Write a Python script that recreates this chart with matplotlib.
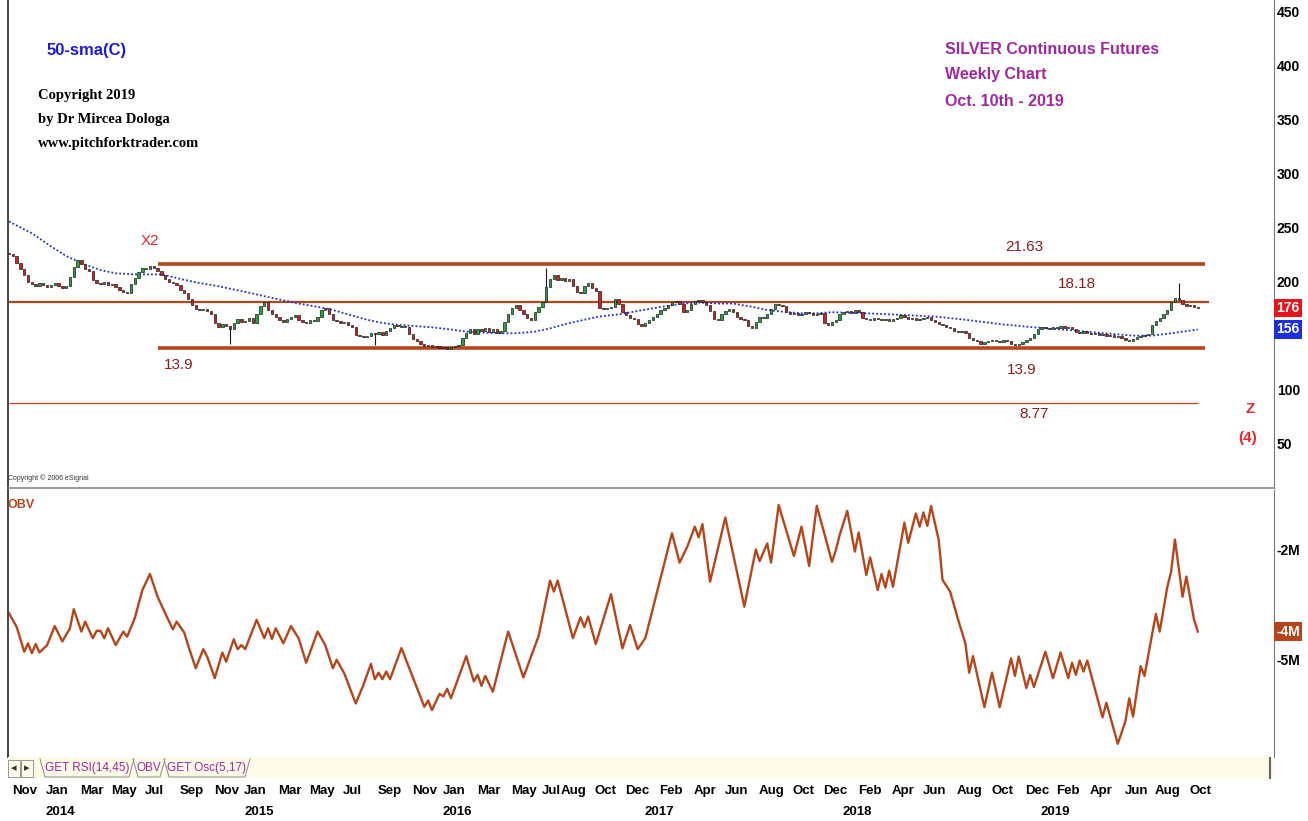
import matplotlib.pyplot as plt
import matplotlib.lines as mlines
import matplotlib.patches as mpatches
import matplotlib.transforms as mtransforms
import numpy as np
import pandas as pd

# ---------------- data ----------------
# weekly closes in axis units (10 = $1), first bar Oct 18 2013
closes = [
    226, 224, 218, 212, 206, 200, 198, 196, 199, 197, 195, 197, 199, 196, 194, 196,
    205, 214, 220, 217,
    212, 210, 202, 199, 198, 200, 197, 198,
    195, 193, 191, 190, 198, 204, 209,
    213, 212, 215, 213,
    210, 206, 203, 200, 199, 197, 193, 190,
    184, 179, 175, 174, 175, 173, 170,
    162, 158, 161, 159, 156,
    162, 166, 163, 164, 167, 162,
    170, 178, 181,
    174, 170, 168, 165, 163, 166, 168, 169, 165,
    163, 162, 165, 164, 168, 174, 176,
    170, 165, 164, 162, 163, 160, 158,
    151, 150, 149, 150, 153, 152, 154, 151,
    155, 157, 160, 159, 158, 158,
    152, 147, 145, 143,
    141, 142, 140, 141, 139, 140, 138, 140, 141, 142,
    148, 153, 156, 152, 156, 155, 157, 154, 156, 153, 155,
    163, 170, 176, 179, 174, 170, 167, 165, 172, 177, 181,
    195, 203, 206, 202, 204, 201, 203, 196, 191, 190,
    196, 199, 194, 192, 176, 175, 176, 177, 184, 180,
    172, 169, 167, 166, 161, 159, 162, 165, 168, 170, 174, 176,
    179, 181, 182, 180, 172, 174, 180, 182, 183, 181, 179,
    173, 166, 165, 170, 173, 175, 172, 168, 166, 165,
    159, 157, 163, 168, 167, 170, 175, 180, 179, 178,
    172, 170, 171, 169, 170, 172, 171, 169, 170, 171,
    162, 160, 163, 165, 170, 172, 173, 171, 174, 172,
    167, 166, 165, 167, 166, 165, 166, 164, 166, 167,
    169, 168, 166, 167, 165, 166, 167, 168, 165,
    163, 161, 160, 158, 157, 155, 154, 155, 153, 148, 146, 145,
    143, 144, 145, 146, 145, 144, 146, 145, 143, 142, 143, 144, 146, 148,
    152, 156, 158, 157, 156, 158, 157, 159, 157, 158, 156,
    154, 153, 155, 153, 152, 153, 151, 152, 150, 151, 149, 150,
    148, 146, 145, 147, 149, 150, 151, 152,
    160, 164, 167, 170, 174, 181, 185, 183, 180, 178, 179, 177, 176,
]

# long wicks that stand out
wick_weeks = [58, 96, 141, 307]
wick_values = [143, 142, 213, 199]

# 50-week sma (blue dotted) read at these weeks
sma_weeks = [0, 6, 11, 15, 20, 24, 28, 33, 36, 40, 46, 50, 55, 59, 63, 68, 72, 76, 81,
             85, 90, 94, 98, 103, 107, 111, 116, 120, 125, 129, 133, 138, 142, 146,
             151, 155, 160, 164, 168, 173, 177, 181, 186, 190, 195, 199, 203, 208,
             212, 216, 225, 234, 243, 251, 260, 269, 278, 286, 291, 295, 300, 304,
             308, 312]
sma_values = [256, 245, 233, 224, 216, 211, 208, 207, 207, 207, 202, 199, 196, 193,
              190, 186, 183, 180, 177, 174, 169, 165, 162, 160, 159, 158, 156, 154,
              153, 152.5, 152.5, 154, 157, 161, 165, 168, 170, 172.5, 175, 178, 180,
              181, 180, 180, 177, 174, 172.5, 171, 171, 172, 171, 169.5, 168, 165,
              161, 158, 155.5, 153, 151.5, 150.3, 150.3, 152, 154, 156]

# OBV turning points (millions)
obv_weeks = [0, 2, 4, 5, 6, 7, 8, 10, 12, 14, 16, 17, 19, 20, 22, 23, 24, 25, 26, 28,
             30, 31, 33, 35, 37, 39, 41, 43, 44, 46, 47, 49, 51, 52, 54, 56, 57, 59, 60,
             61, 62, 65, 67, 68, 69, 70, 72, 74, 76, 78, 81, 83, 85, 86, 88, 91, 93, 95,
             96, 97, 98, 99, 100, 103, 109, 110, 111, 113, 114, 115, 116, 120, 122, 123,
             124, 125, 127, 131, 135, 139, 142, 143, 144, 148, 150, 151, 152, 154, 158,
             161, 163, 165, 167, 174, 176, 178, 180, 181, 182, 184, 188, 193, 196, 197,
             199, 200, 202, 206, 208, 210, 212, 216, 217, 218, 220, 222, 223, 225, 226,
             228, 229, 230, 231, 232, 235, 236, 238, 239, 240, 241, 242, 244, 245, 247,
             249, 251, 252, 253, 256, 258, 260, 263, 264, 265, 267, 268, 269, 272, 274,
             276, 278, 279, 280, 281, 282, 283, 287, 288, 291, 293, 294, 295, 297, 298,
             301, 302, 304, 305, 306, 308, 309, 311, 312]
obv_values = [-3.75, -4.12, -4.80, -4.57, -4.84, -4.59, -4.82, -4.62, -4.10, -4.52,
              -4.16, -3.64, -4.25, -3.98, -4.43, -4.23, -4.23, -4.43, -4.16, -4.62,
              -4.25, -4.39, -3.89, -3.12, -2.68, -3.30, -3.75, -4.19, -3.98, -4.28,
              -4.62, -5.25, -4.73, -4.93, -5.52, -4.82, -5.07, -4.46, -4.73, -4.62,
              -4.73, -3.93, -4.43, -4.16, -4.45, -4.16, -4.57, -4.10, -4.43, -5.10,
              -4.25, -4.62, -5.25, -5.02, -5.39, -6.21, -5.71, -5.13, -5.55, -5.37,
              -5.55, -5.34, -5.55, -4.70, -6.30, -6.13, -6.39, -5.95, -6.02, -5.81,
              -6.07, -4.92, -5.61, -5.43, -5.73, -5.46, -5.89, -4.25, -5.50, -4.37,
              -2.86, -3.16, -2.86, -4.43, -3.86, -4.13, -3.84, -4.59, -3.23, -4.71,
              -4.07, -4.73, -4.43, -1.57, -2.37, -1.94, -1.39, -1.68, -1.32, -2.89,
              -1.14, -3.57, -2.01, -2.33, -1.85, -2.37, -0.80, -2.19, -1.39, -2.46,
              -0.82, -2.35, -2.03, -1.62, -0.96, -2.07, -1.55, -2.71, -2.23, -3.12,
              -2.68, -3.05, -2.59, -3.03, -1.28, -1.83, -1.03, -1.39, -1.00, -1.37,
              -0.83, -1.75, -2.84, -3.16, -3.89, -4.57, -5.37, -4.92, -6.31, -5.37,
              -6.31, -4.98, -5.46, -4.93, -5.79, -5.43, -5.76, -4.80, -5.52, -4.82,
              -5.52, -5.10, -5.43, -5.04, -5.34, -5.04, -6.59, -6.19, -7.31, -6.70,
              -6.07, -6.57, -5.19, -5.46, -3.77, -4.25, -3.03, -2.62, -1.74, -3.30,
              -2.75, -3.92, -4.25]

# pitchfork / level lines
level_values = [216.3, 181.8, 139.0, 87.7]
level_start = [39, 0, 39, 0]
level_end = [314, 315, 314, 312]

month_labels = ['2013-11', '2014-01', '2014-03', '2014-05', '2014-07', '2014-09', '2014-11',
                '2015-01', '2015-03', '2015-05', '2015-07', '2015-09', '2015-11',
                '2016-01', '2016-03', '2016-05', '2016-07', '2016-08', '2016-10', '2016-12',
                '2017-02', '2017-04', '2017-06', '2017-08', '2017-10', '2017-12',
                '2018-02', '2018-04', '2018-06', '2018-08', '2018-10', '2018-12',
                '2019-02', '2019-04', '2019-06', '2019-08', '2019-10']
year_labels = ['2014', '2015', '2016', '2017', '2018', '2019']
price_ticks = [50, 100, 200, 250, 300, 350, 400, 450]
obv_ticks = [-2, -5]

# ---------------- figure ----------------
W, H = 1308, 821
fig = plt.figure(figsize=(W / 100, H / 100), dpi=100)
fig.patch.set_facecolor('white')


def fx(x):
    return x / W


def fy(y):
    return 1 - y / H


SANS = ['Liberation Sans', 'DejaVu Sans']
SERIF = ['Liberation Serif', 'DejaVu Serif']
RUST = '#b5461c'
DKRED = '#8b1c1c'
PURPLE = '#a0289e'
RED = '#e8262b'

ax = fig.add_axes([fx(8), fy(488), fx(1274) - fx(8), fy(0) - fy(488)])
ax2 = fig.add_axes([fx(8), fy(757), fx(1274) - fx(8), fy(490) - fy(757)], sharex=ax)

n = len(closes)
dates = pd.date_range('2013-10-18', periods=n, freq='W-FRI')
xs = np.arange(n)
c = np.array(closes, dtype=float)
o = np.r_[c[0], c[:-1]]
up = c >= o

# candles
lo_body = np.minimum(o, c)
hi_body = np.maximum(o, c)
ax.bar(xs, np.maximum(hi_body - lo_body, 0.9), bottom=lo_body, width=0.62,
       color=np.where(up, '#22a83a', '#d42020'), edgecolor='#1a1a1a', linewidth=0.5, zorder=3)
for w, v in zip(wick_weeks, wick_values):
    ax.vlines(w, min(lo_body[w], v), max(hi_body[w], v), color='#1a1a1a', lw=0.8, zorder=2)

# 50 sma
ax.plot(sma_weeks, sma_values, color='#1a2fd6', lw=1.3, ls=(0, (1, 1.2)), zorder=2)

# level lines
for val, s, e, lw in zip(level_values, level_start, level_end, [2.6, 1.6, 2.6, 0.9]):
    ax.hlines(val, s, e, color=RUST, lw=lw, zorder=1)

ax.set_xlim(-0.26, 332)
ax.set_ylim(9.26, 461)
ax.yaxis.tick_right()
ax.set_yticks(price_ticks)
ax.set_yticklabels([str(t) for t in price_ticks], fontsize=10, fontweight='bold', family=SANS)
ax.tick_params(axis='y', length=0, pad=2)
ax.tick_params(axis='x', length=0, labelbottom=False)
ax.spines['top'].set_visible(False)
ax.spines['left'].set_color('#444444')
ax.spines['left'].set_linewidth(1.4)
ax.spines['right'].set_color('#777777')
ax.spines['bottom'].set_color('#8a8a8a')
ax.spines['bottom'].set_linewidth(1.2)

# value boxes on the price axis
ytr = ax.get_yaxis_transform()
ax.text(1.002, c[-1], f'{c[-1]:.0f}', transform=ytr, ha='left', va='center', color='white',
        fontsize=10, fontweight='bold', family=SANS,
        bbox=dict(boxstyle='square,pad=0.15', fc='#e8141b', ec='none'))
ax.text(1.002, sma_values[-1], f'{sma_values[-1]:.0f}', transform=ytr, ha='left', va='center',
        color='white', fontsize=10, fontweight='bold', family=SANS,
        bbox=dict(boxstyle='square,pad=0.15', fc='#1f2fe0', ec='none'))

# OBV panel
ax2.plot(obv_weeks, obv_values, color=RUST, lw=1.7)
ax2.set_ylim(-7.67, -0.39)
ax2.yaxis.tick_right()
ax2.set_yticks(obv_ticks)
ax2.set_yticklabels([f'{t}M' for t in obv_ticks], fontsize=10, fontweight='bold', family=SANS)
ax2.tick_params(axis='y', length=0, pad=2)
ax2.tick_params(axis='x', length=0, labelbottom=False)
ax2.spines['top'].set_visible(False)
ax2.spines['bottom'].set_visible(False)
ax2.spines['left'].set_color('#444444')
ax2.spines['left'].set_linewidth(1.4)
ax2.spines['right'].set_color('#777777')
ax2.text(1.002, obv_values[-1], f'{obv_values[-1]:.0f}M', transform=ax2.get_yaxis_transform(),
         ha='left', va='center', color='white', fontsize=10, fontweight='bold', family=SANS,
         bbox=dict(boxstyle='square,pad=0.15', fc='#b3441c', ec='none'))

# month / year axis labels (x in weeks, y in figure), labels start at the month's first bar
xtr = mtransforms.blended_transform_factory(ax2.transData, fig.transFigure)
for lab in month_labels:
    yr, mo = lab.split('-')
    idx = np.argmax((dates.year == int(yr)) & (dates.month == int(mo)))
    ax2.text(idx - 1.25, fy(791), pd.Timestamp(lab + '-01').strftime('%b'), transform=xtr,
             ha='left', va='center', fontsize=9.5, fontweight='bold', family=SANS)
for yr in year_labels:
    idx = np.argmax((dates.year == int(yr)) & (dates.month == 1))
    ax2.text(idx + 2.6, fy(812), yr, transform=xtr,
             ha='center', va='center', fontsize=9.5, fontweight='bold', family=SANS)

# tab bar
fig.patches.append(mpatches.Rectangle((fx(8), fy(778)), fx(1274) - fx(8), fy(757) - fy(778),
                                      transform=fig.transFigure, fc='#fdfbe8', ec='none'))
fig.text(fx(14), fy(768), '◂', fontsize=8, ha='center', va='center', color='#333333')
fig.text(fx(27), fy(768), '▸', fontsize=8, ha='center', va='center', color='#333333')
for x0, x1 in [(8, 20), (21, 33)]:
    fig.patches.append(mpatches.Rectangle((fx(x0), fy(777)), fx(x1) - fx(x0), fy(760) - fy(777),
                                          transform=fig.transFigure, fc='none', ec='#888888', lw=0.6))
tabs = [('GET RSI(14,45)', 40, 134), ('OBV', 133, 165), ('GET Osc(5,17)', 164, 250)]
for name, x0, x1 in tabs:
    fig.text(fx((x0 + x1) / 2), fy(768), name, fontsize=8.5, ha='center', va='center',
             color=PURPLE, family=SANS)
    fig.lines.append(mlines.Line2D([fx(x0), fx(x0 + 5), fx(x1 - 5), fx(x1)],
                                   [fy(759), fy(777), fy(777), fy(759)],
                                   transform=fig.transFigure, color='#8a8a8a', lw=0.7))
fig.lines.append(mlines.Line2D([fx(1270), fx(1270)], [fy(758), fy(778)],
                               transform=fig.transFigure, color='#666666', lw=1.5))

# annotations
fig.text(fx(47), fy(50), '50-sma(C)', color='#1b1bd6', fontsize=12, fontweight='bold',
         family=SANS, va='center')
for k, line in enumerate(['Copyright 2019', 'by Dr Mircea Dologa', 'www.pitchforktrader.com']):
    fig.text(fx(38), fy(96 + 23.5 * k), line, fontsize=10.5, fontweight='bold',
             family=SERIF, va='center')
for k, line in enumerate(['SILVER Continuous Futures', 'Weekly Chart', 'Oct. 10th - 2019']):
    fig.text(fx(945), fy(49 + 26 * k), line, fontsize=11.5, fontweight='bold', color=PURPLE,
             family=SANS, va='center')

fig.text(fx(150), fy(241), 'X2', color=RED, fontsize=11, family=SANS, ha='center', va='center')
for txt, x, y in [('21.63', 1024, 247), ('18.18', 1077, 284), ('13.9', 179, 365),
                  ('13.9', 1022, 370), ('8.77', 1034, 414)]:
    fig.text(fx(x), fy(y), txt, color=DKRED, fontsize=11, family=SANS, ha='center', va='center')
fig.text(fx(1250), fy(409), 'Z', color=RED, fontsize=11, fontweight='bold', family=SANS,
         ha='center', va='center')
fig.text(fx(1248), fy(438), '(4)', color=RED, fontsize=11, fontweight='bold', family=SANS,
         ha='center', va='center')
fig.text(fx(8), fy(478), 'Copyright © 2006 eSignal', fontsize=5, color='#333333', family=SANS,
         va='center')
fig.text(fx(8), fy(505), 'OBV', fontsize=9, fontweight='bold', color=RUST, family=SANS, va='center')

fig.savefig('out.png', dpi=100)
